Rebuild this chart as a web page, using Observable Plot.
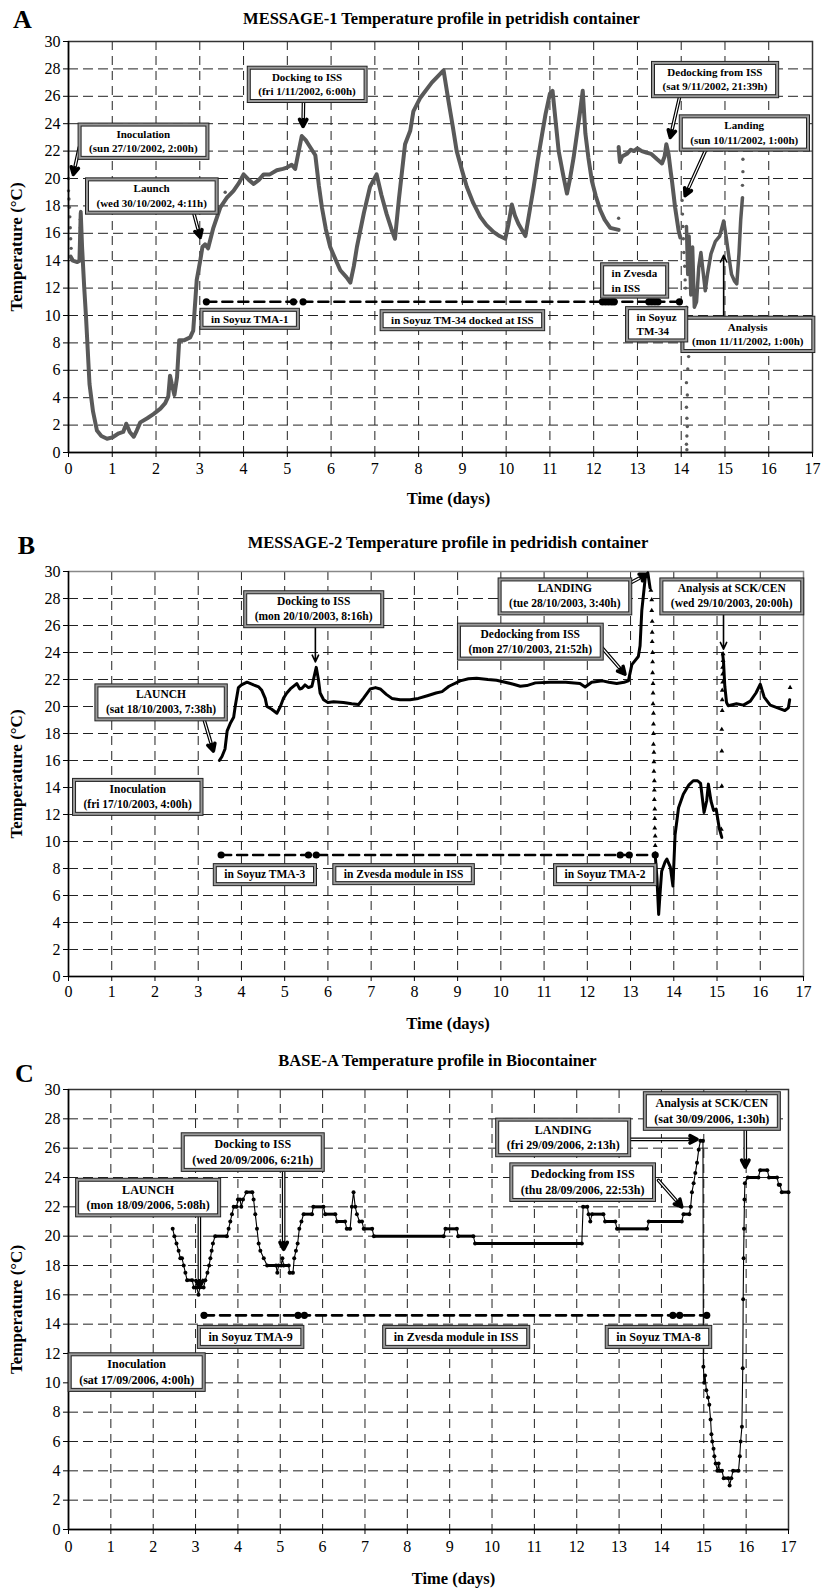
<!DOCTYPE html>
<html><head><meta charset="utf-8">
<script src="https://cdn.jsdelivr.net/npm/d3@7"></script>
<script src="https://cdn.jsdelivr.net/npm/@observablehq/plot@0.6"></script>
<style>
body{margin:0;background:#fff;}
#root{width:832px;}
#root svg{display:block;}
</style></head><body><div id="root"></div>
<script>
// ---------- Panel A: MESSAGE-1 ----------
const aTitle = "MESSAGE-1 Temperature profile in petridish container";
const aSeg1 = [[0.05,14.3],[0.1,14.0],[0.2,13.9],[0.25,14.0],[0.28,17.5],[0.31,15.0],[0.36,12.0],[0.4,9.9],[0.48,5.0],[0.56,3.0],[0.65,1.6],[0.75,1.2],[0.88,1.0],[1.0,1.1],[1.15,1.4],[1.25,1.5],[1.32,2.1],[1.4,1.5],[1.49,1.15],[1.56,1.6],[1.64,2.2],[1.8,2.5],[1.94,2.8],[2.1,3.2],[2.21,3.6],[2.28,4.1],[2.32,5.6],[2.36,5.0],[2.42,4.2],[2.48,5.5],[2.53,8.2],[2.65,8.2],[2.78,8.4],[2.85,8.9],[2.93,12.6],[3.01,14.0],[3.06,15.0],[3.12,15.2],[3.19,14.9],[3.31,16.4],[3.47,17.9],[3.62,18.6],[3.77,19.1],[3.9,19.7],[4.0,20.3],[4.12,19.9],[4.23,19.6],[4.35,19.9],[4.46,20.3],[4.6,20.3],[4.76,20.6],[4.9,20.7],[4.99,20.8],[5.1,21.0],[5.18,20.7],[5.26,22.0],[5.33,23.1],[5.42,22.8],[5.48,22.5],[5.64,21.7],[5.72,19.5],[5.79,17.9],[5.88,16.3],[5.98,15.0],[6.1,14.1],[6.21,13.3],[6.35,12.8],[6.44,12.4],[6.52,13.6],[6.59,15.0],[6.75,17.5],[6.89,19.4],[7.04,20.3],[7.15,18.8],[7.27,17.4],[7.38,16.3],[7.46,15.6],[7.55,18.5],[7.69,22.5],[7.81,23.5],[7.88,24.9],[8.04,25.9],[8.3,27.0],[8.57,27.9],[8.68,25.7],[8.78,23.8],[8.87,22.0],[9.0,20.5],[9.1,19.4],[9.25,18.2],[9.41,17.2],[9.55,16.6],[9.71,16.1],[9.85,15.8],[9.98,15.6],[10.05,16.6],[10.13,18.1],[10.2,17.3],[10.28,16.7],[10.44,15.8],[10.53,17.5],[10.63,19.4],[10.72,21.3],[10.82,23.2],[10.9,24.7],[11.0,26.2],[11.06,26.4],[11.13,24.2],[11.2,22.0],[11.3,20.3],[11.39,18.9],[11.46,20.0],[11.54,21.5],[11.62,23.3],[11.69,24.9],[11.75,26.4],[11.81,23.3],[11.88,21.5],[11.96,19.8],[12.05,18.7],[12.15,17.7],[12.25,17.0],[12.38,16.4],[12.57,16.25]];
const aSeg2 = [[12.57,22.3],[12.6,21.2],[12.65,21.6],[12.76,21.8],[12.85,22.1],[12.92,22.0],[13.0,22.2],[13.1,22.0],[13.2,21.9],[13.31,21.8],[13.45,21.4],[13.56,21.1],[13.62,21.6],[13.66,22.5],[13.71,21.8],[13.76,20.5],[13.79,19.8],[13.86,17.9],[13.94,16.2],[13.98,15.7]];
const aSeg3 = [[14.12,16.5],[14.15,13.0],[14.18,15.8],[14.22,11.5],[14.26,15.0],[14.3,10.6],[14.35,11.0],[14.4,13.5],[14.45,14.6],[14.5,13.2],[14.55,11.8],[14.6,13.0],[14.68,14.5],[14.78,15.4],[14.88,15.8],[14.97,16.9],[15.02,15.9],[15.08,14.5],[15.15,13.0],[15.22,12.5],[15.27,12.3],[15.32,14.5],[15.36,17.0],[15.4,18.6]];
const aDots = [[0,20.0],[0,19.1],[0.01,18.5],[0.02,17.9],[0.03,17.2],[0.04,16.4],[0.05,15.6],[0.06,14.9],[0.26,14.6],[0.26,15.2],[0.27,15.8],[0.27,16.4],[0.27,17.0],[0.28,17.6],[3.58,19.0],[12.57,17.1],[14.02,18.4],[14.03,17.4],[14.04,16.5],[14.05,15.6],[14.06,14.6],[14.08,13.6],[14.09,12.6],[14.1,12.0],[14.12,10.6],[14.11,9.2],[14.13,8.0],[14.17,7.0],[14.15,6.1],[14.12,5.1],[14.14,4.2],[14.12,3.3],[14.13,2.5],[14.14,1.9],[14.13,1.2],[14.12,0.6],[14.13,0.2],[15.4,19.5],[15.41,20.5],[15.41,21.4]];
const aSoyuzDays = [3.15,5.14,5.36,12.2,12.27,12.34,12.41,12.47,13.26,13.33,13.4,13.47,13.96];
const aSoyuzLevel = 11;
const aBoxes = [
  ["Inoculation\n(sun 27/10/2002, 2:00h)", 1.71, 22.8],
  ["Launch\n(wed 30/10/2002, 4:11h)", 1.9, 18.8],
  ["Docking to ISS\n(fri 1/11/2002, 6:00h)", 5.45, 26.95],
  ["Dedocking from ISS\n(sat 9/11/2002, 21:39h)", 14.77, 27.3],
  ["Landing\n(sun 10/11/2002, 1:00h)", 15.44, 23.4],
  ["Analysis\n(mon 11/11/2002, 1:00h)", 15.52, 8.7],
  ["in Soyuz TMA-1", 4.14, 9.8],
  ["in Soyuz TM-34 docked at ISS", 9.0, 9.7]
];
const aBoxesLeft = [["in Zvesda\nin ISS", 12.41, 12.6], ["in Soyuz\nTM-34", 12.98, 9.4]];
const aArrowsDouble = [[0.245,22.25,0.11,20.3],[2.86,17.5,3.01,15.7],[5.37,25.7,5.36,23.8],[13.96,25.9,13.75,23.0],[14.55,22.0,14.09,18.75]];
const aArrowsSingle = [[14.97,10.0,14.97,14.4]];

// ---------- Panel B: MESSAGE-2 ----------
const bTitle = "MESSAGE-2 Temperature profile in pedridish container";
const bSeg1 = [[3.49,16.0],[3.55,16.3],[3.62,16.85],[3.67,18.2],[3.75,18.8],[3.82,19.2],[3.86,20.1],[3.93,21.4],[4.0,21.6],[4.13,21.8],[4.28,21.6],[4.4,21.45],[4.47,21.2],[4.55,20.6],[4.59,20.0],[4.7,19.8],[4.82,19.5],[4.9,20.0],[4.97,20.6],[5.05,21.0],[5.13,21.3],[5.28,21.7],[5.35,21.3],[5.4,21.35],[5.47,21.6],[5.55,21.4],[5.63,21.5],[5.68,22.2],[5.73,22.9],[5.78,22.0],[5.82,21.0],[5.9,20.5],[6.0,20.3],[6.13,20.35],[6.36,20.3],[6.55,20.2],[6.71,20.15],[6.82,20.6],[6.98,21.3],[7.1,21.4],[7.21,21.3],[7.35,20.9],[7.48,20.6],[7.67,20.5],[7.9,20.5],[8.09,20.6],[8.3,20.8],[8.5,21.0],[8.64,21.1],[8.8,21.5],[9.06,21.9],[9.25,22.05],[9.44,22.1],[9.7,22.0],[9.9,21.95],[10.1,21.8],[10.29,21.65],[10.45,21.5],[10.6,21.55],[10.8,21.75],[11.14,21.8],[11.5,21.8],[11.83,21.7],[11.95,21.45],[12.1,21.8],[12.35,21.9],[12.5,21.8],[12.68,21.7],[12.85,21.8],[12.95,21.9],[13.03,23.1],[13.18,23.7],[13.22,24.5],[13.26,27.1],[13.34,29.55],[13.4,29.9],[13.45,28.8]];
const bSeg2 = [[13.57,9.0],[13.61,7.3],[13.65,4.6],[13.69,6.5],[13.72,7.8],[13.8,8.5],[13.84,8.7],[13.92,8.1],[13.98,6.7],[14.03,10.5],[14.11,12.5],[14.22,13.5],[14.35,14.2],[14.45,14.5],[14.55,14.5],[14.62,14.3],[14.7,12.15],[14.76,13.0],[14.8,14.25],[14.86,13.0],[14.92,12.3],[14.98,12.4],[15.05,11.0],[15.11,10.3]];
const bSeg3 = [[15.13,23.9],[15.15,23.3],[15.18,21.5],[15.22,20.3],[15.26,20.05],[15.45,20.2],[15.61,20.1],[15.77,20.4],[15.9,21.0],[16.0,21.65],[16.09,20.7],[16.23,20.1],[16.4,19.9],[16.57,19.7],[16.65,19.9],[16.68,20.5]];
const bDots = [[13.47,28.6],[13.49,27.9],[13.49,27.1],[13.5,26.3],[13.5,25.5],[13.5,24.8],[13.51,24.0],[13.51,23.3],[13.51,22.5],[13.52,21.7],[13.52,21.0],[13.52,20.2],[13.53,19.5],[13.53,18.7],[13.53,18.0],[13.53,17.2],[13.54,16.6],[13.54,15.9],[13.54,15.2],[13.55,14.5],[13.55,13.8],[13.55,13.1],[13.56,12.4],[13.56,11.7],[13.56,11.0],[13.57,10.4],[13.57,9.7],[13.57,9.1],[15.1,10.9],[15.11,14.1],[15.11,16.7],[15.11,18.3],[15.12,19.7],[15.12,20.5],[15.12,21.2],[15.13,21.8],[15.13,22.4],[15.13,22.9],[15.14,23.4],[15.14,23.9],[16.69,21.4]];
const bSoyuzDays = [3.53,5.55,5.73,12.76,12.97,13.57];
const bSoyuzLevel = 9;
const bBoxes = [
  ["LAUNCH\n(sat 18/10/2003, 7:38h)", 2.14, 20.4],
  ["Inoculation\n(fri 17/10/2003, 4:00h)", 1.6, 13.4],
  ["Docking to ISS\n(mon 20/10/2003, 8:16h)", 5.67, 27.3],
  ["LANDING\n(tue 28/10/2003, 3:40h)", 11.48, 28.25],
  ["Dedocking from ISS\n(mon 27/10/2003, 21:52h)", 10.68, 24.9],
  ["Analysis at SCK/CEN\n(wed 29/10/2003, 20:00h)", 15.34, 28.25],
  ["in Soyuz TMA-3", 4.54, 7.64],
  ["in Zvesda module in ISS", 7.75, 7.64],
  ["in Soyuz TMA-2", 12.41, 7.64]
];
const bArrowsDouble = [[3.12,19.2,3.35,16.7],[12.84,28.9,13.38,29.8],[12.3,24.5,12.87,22.4]];
const bArrowsSingle = [[5.71,26.0,5.71,23.3],[15.15,26.85,15.15,24.25]];

// ---------- Panel C: BASE-A ----------
const cTitle = "BASE-A Temperature profile in Biocontainer";
const cSeries = [[2.46,20.5],[2.5,20.0],[2.55,19.5],[2.6,19.0],[2.64,18.5],[2.68,18.5],[2.72,18.0],[2.76,17.5],[2.8,17.0],[2.92,17.0],[2.96,16.5],[3.03,16.5],[3.07,16.0],[3.1,16.5],[3.19,16.5],[3.23,17.0],[3.28,17.5],[3.32,18.0],[3.35,18.5],[3.38,19.0],[3.41,19.5],[3.46,20.0],[3.74,20.0],[3.78,20.5],[3.82,21.0],[3.86,21.5],[3.9,22.0],[3.97,22.0],[4.0,22.5],[4.05,22.5],[4.08,22.0],[4.12,22.5],[4.2,23.0],[4.34,23.0],[4.37,22.5],[4.41,21.5],[4.45,20.5],[4.49,19.5],[4.53,19.0],[4.61,18.5],[4.69,18.0],[4.9,18.0],[4.93,17.5],[4.96,18.0],[5.02,18.0],[5.05,18.5],[5.08,18.0],[5.2,18.0],[5.22,17.5],[5.3,17.5],[5.33,18.5],[5.37,19.0],[5.41,19.5],[5.45,20.5],[5.5,21.0],[5.55,21.5],[5.75,21.5],[5.78,22.0],[6.02,22.0],[6.06,21.5],[6.3,21.5],[6.34,21.0],[6.53,21.0],[6.57,20.5],[6.65,20.5],[6.69,22.0],[6.73,23.0],[6.77,22.0],[6.81,21.5],[6.87,21.0],[6.93,21.0],[6.97,20.5],[7.17,20.5],[7.21,20.0],[8.86,20.0],[8.9,20.5],[9.17,20.5],[9.2,20.0],[9.56,20.0],[9.6,19.5],[12.12,19.5],[12.15,22.0],[12.25,22.0],[12.28,21.5],[12.32,21.0],[12.36,21.5],[12.63,21.5],[12.67,21.0],[12.91,21.0],[12.95,20.5],[13.66,20.5],[13.7,21.0],[14.48,21.0],[14.52,21.5],[14.66,21.5],[14.69,22.0],[14.72,23.0],[14.76,23.6],[14.8,24.3],[14.84,25.0],[14.88,25.9],[14.92,26.5],[14.98,26.5],[14.99,11.1],[15.01,10.0],[15.03,10.5],[15.06,9.5],[15.1,9.0],[15.13,8.5],[15.16,7.5],[15.18,6.5],[15.2,6.0],[15.23,5.5],[15.25,5.0],[15.28,4.5],[15.32,4.0],[15.35,4.5],[15.37,4.0],[15.43,4.0],[15.47,3.5],[15.58,3.5],[15.61,3.0],[15.65,3.5],[15.69,4.0],[15.82,4.0],[15.85,5.0],[15.87,6.0],[15.9,7.0],[15.92,11.0],[15.93,15.7],[15.94,18.5],[15.95,20.5],[15.96,22.5],[15.97,23.6],[16.04,24.0],[16.29,24.0],[16.33,24.5],[16.5,24.5],[16.54,24.0],[16.73,24.0],[16.77,23.5],[16.8,23.5],[16.84,23.0],[17.0,23.0]];
const cSoyuzDays = [3.2,5.42,5.57,14.27,14.43,15.07];
const cSoyuzLevel = 14.6;
const cBoxes = [
  ["LAUNCH\n(mon 18/09/2006, 5:08h)", 1.88, 22.7],
  ["Docking to ISS\n(wed 20/09/2006, 6:21h)", 4.35, 25.8],
  ["Inoculation\n(sat 17/09/2006, 4:00h)", 1.61, 10.8],
  ["LANDING\n(fri 29/09/2006, 2:13h)", 11.68, 26.8],
  ["Dedocking from ISS\n(thu 28/09/2006, 22:53h)", 12.14, 23.75],
  ["Analysis at SCK/CEN\n(sat 30/09/2006, 1:30h)", 15.19, 28.6],
  ["in Soyuz TMA-9", 4.3, 13.2],
  ["in Zvesda module in ISS", 9.15, 13.2],
  ["in Soyuz TMA-8", 13.93, 13.2]
];
const cArrowsDouble = [[3.09,21.4,3.09,16.5],[5.08,24.5,5.08,19.1],[13.2,26.6,14.84,26.6],[13.93,23.8,14.48,22.0],[15.98,27.25,15.98,24.7]];
const cArrowsSingle = [];

// ---------- shared ----------
const xTicks = d3.range(0, 18);
const yTicks = d3.range(0, 31, 2);
const FONT = "'Liberation Serif','Times New Roman',serif";
const X = d => d[0], Y = d => d[1];

function arrowMarks(dbl, sgl) {
  const ch = {x1: d => d[0], y1: d => d[1], x2: d => d[2], y2: d => d[3]};
  return [
    Plot.arrow(dbl, {...ch, stroke: "#000", strokeWidth: 3.6, headLength: 3.3, headAngle: 55}),
    Plot.arrow(dbl, {...ch, stroke: "#fff", strokeWidth: 1.2, headLength: 0, insetEnd: 9}),
    Plot.arrow(sgl, {...ch, stroke: "#000", strokeWidth: 1.6, headLength: 7, headAngle: 50})
  ];
}
function boxedText(data, anchor, size) {
  return Plot.text(data, {x: d => d[1], y: d => d[2], text: d => d[0], fontSize: size, fontWeight: "bold",
    lineHeight: 1.3, textAnchor: anchor, lineAnchor: "middle", fill: "#000", ariaDescription: "boxed"});
}
function soyuzMarks(days, level) {
  return [
    Plot.line(d3.extent(days), {x: d => d, y: () => level, stroke: "#000", strokeWidth: 2.6, strokeDasharray: "10,6"}),
    Plot.dot(days, {x: d => d, y: () => level, r: 3.6, fill: "#000"})
  ];
}
const centered = {textAnchor: "middle", lineAnchor: "middle"};

function panel(o) {
  return Plot.plot({
    width: 832, height: o.height, marginLeft: 68, marginRight: o.mr, marginTop: o.mt, marginBottom: o.mb,
    x: {domain: [0, 17], label: null}, y: {domain: [0, 30], label: null},
    style: {fontFamily: FONT, fontSize: "16px", color: "#000", background: "#fff", overflow: "visible"},
    marks: [
      Plot.gridY({ticks: yTicks.slice(1, -1), stroke: "#222", strokeOpacity: 1, strokeDasharray: "10,5"}),
      Plot.gridX({ticks: xTicks.slice(1, -1), stroke: "#222", strokeOpacity: 1, strokeDasharray: "9,6"}),
      Plot.frame({stroke: o.frame, strokeWidth: 1.5}),
      ...o.marks,
      Plot.ruleX([0], {stroke: "#000", strokeWidth: 1.5}),
      Plot.ruleY([0], {stroke: "#000", strokeWidth: 1.5}),
      Plot.axisX({ticks: xTicks, tickSize: 5, tickPadding: o.xpad, label: null, fontSize: 16}),
      Plot.axisY({ticks: yTicks, tickSize: 5, tickPadding: 3, label: null, fontSize: 16}),
      ...arrowMarks(o.dbl, o.sgl),
      boxedText(o.boxes, "middle", o.bf),
      ...(o.boxesLeft ? [boxedText(o.boxesLeft, "start", o.bf)] : []),
      Plot.text([o.title], {text: d => d, frameAnchor: "top", ...centered, dx: o.tdx, dy: o.tdy, fontSize: 16.5, fontWeight: "bold"}),
      Plot.text([o.letter], {text: d => d, frameAnchor: "top-left", ...centered, dx: o.ldx, dy: o.ldy, fontSize: 26, fontWeight: "bold"}),
      Plot.text(["Time (days)"], {text: d => d, frameAnchor: "bottom", ...centered, dx: o.xldx, dy: o.xldy, fontSize: 16.5, fontWeight: "bold"}),
      Plot.text(["Temperature (\u00B0C)"], {text: d => d, frameAnchor: "left", ...centered, dx: -52, rotate: -90, fontSize: 17, fontWeight: "bold"})
    ]
  });
}

const GRAY = "#595959";
const pA = panel({
  height: 510, mt: 41, mb: 58, mr: 20, frame: "#333", xpad: 5, bf: 11,
  title: aTitle, tdx: 1, tdy: -23, letter: "A", ldx: -46, ldy: -22, xldx: 8, xldy: 46,
  marks: [
    Plot.line(aSeg1, {x: X, y: Y, stroke: GRAY, strokeWidth: 4, strokeLinejoin: "round"}),
    Plot.line(aSeg2, {x: X, y: Y, stroke: GRAY, strokeWidth: 4, strokeLinejoin: "round"}),
    Plot.line(aSeg3, {x: X, y: Y, stroke: GRAY, strokeWidth: 3.5, strokeLinejoin: "round"}),
    Plot.dot(aDots, {x: X, y: Y, r: 1.7, fill: GRAY}),
    ...soyuzMarks(aSoyuzDays, aSoyuzLevel)
  ],
  dbl: aArrowsDouble, sgl: aArrowsSingle, boxes: aBoxes, boxesLeft: aBoxesLeft
});
const pB = panel({
  height: 525, mt: 61, mb: 59, mr: 29, frame: "#888", xpad: 4, bf: 11.5,
  title: bTitle, tdx: 12, tdy: -29, letter: "B", ldx: -42, ldy: -26, xldx: 12, xldy: 47,
  marks: [
    Plot.line(bSeg1, {x: X, y: Y, stroke: "#000", strokeWidth: 3, strokeLinejoin: "round"}),
    Plot.line(bSeg2, {x: X, y: Y, stroke: "#000", strokeWidth: 3, strokeLinejoin: "round"}),
    Plot.line(bSeg3, {x: X, y: Y, stroke: "#000", strokeWidth: 3, strokeLinejoin: "round"}),
    Plot.dot(bDots, {x: X, y: Y, r: 1.8, symbol: "triangle", fill: "#000"}),
    ...soyuzMarks(bSoyuzDays, bSoyuzLevel)
  ],
  dbl: bArrowsDouble, sgl: bArrowsSingle, boxes: bBoxes
});
const cFlats = d3.pairs(cSeries).filter(([a, b]) => a[1] === b[1]);
const pC = panel({
  height: 555, mt: 54, mb: 61, mr: 44, frame: "#333", xpad: 6, bf: 12,
  title: cTitle, tdx: 9, tdy: -29, letter: "C", ldx: -44, ldy: -16, xldx: 25, xldy: 49,
  marks: [
    Plot.line(cSeries, {x: X, y: Y, stroke: "#000", strokeWidth: 1.1}),
    Plot.link(cFlats, {x1: d => d[0][0], y1: d => d[0][1], x2: d => d[1][0], y2: d => d[1][1], stroke: "#000", strokeWidth: 3}),
    Plot.dot(cSeries, {x: X, y: Y, r: 2, fill: "#000"}),
    ...soyuzMarks(cSoyuzDays, cSoyuzLevel)
  ],
  dbl: cArrowsDouble, sgl: cArrowsSingle, boxes: cBoxes
});

function boxify(svg) {
  const NS = "http://www.w3.org/2000/svg";
  svg.querySelectorAll('[aria-description="boxed"] text').forEach(t => {
    const b = t.getBBox();
    const tr = t.getAttribute("transform");
    const padX = 8, padY = 1.5, gap = 3;
    const mk = (off, fill, stroke) => {
      const r = document.createElementNS(NS, "rect");
      r.setAttribute("x", b.x - padX - off);
      r.setAttribute("y", b.y - padY - off);
      r.setAttribute("width", b.width + 2 * (padX + off));
      r.setAttribute("height", b.height + 2 * (padY + off));
      r.setAttribute("fill", fill);
      r.setAttribute("stroke", stroke);
      r.setAttribute("stroke-width", 1);
      if (tr) r.setAttribute("transform", tr);
      t.parentNode.insertBefore(r, t);
    };
    mk(gap, "#9a9a9a", "#222");
    mk(0, "#fff", "#222");
  });
}

const root = document.getElementById("root");
[pA, pB, pC].forEach(p => { root.appendChild(p); boxify(p); });
</script></body></html>
